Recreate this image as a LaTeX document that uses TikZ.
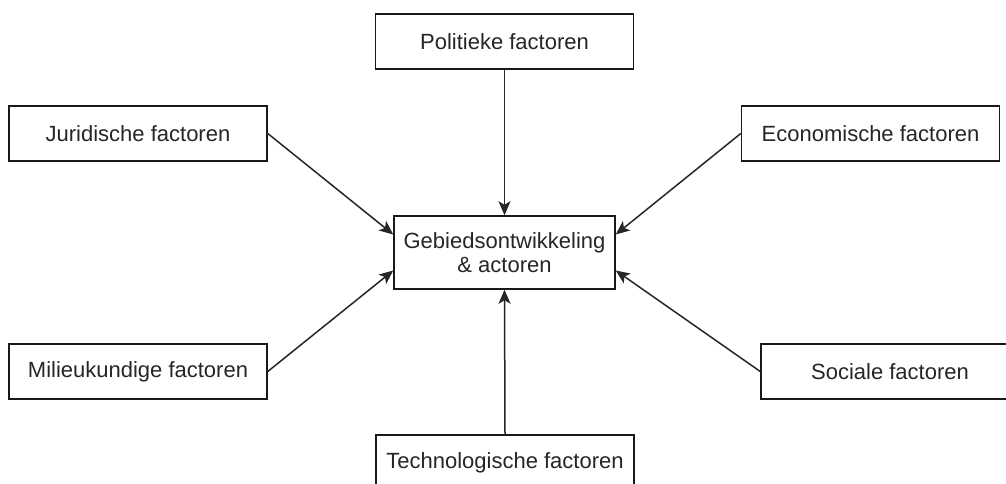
\documentclass[tikz,border=0pt]{standalone}
\usepackage{fontspec}
\setmainfont{Liberation Sans}
\usetikzlibrary{arrows.meta}
\begin{document}
\begin{tikzpicture}[x=1pt,y=-1pt,
  box/.style={draw=black!90,line width=1.5pt,minimum width=258pt,minimum height=55pt,inner sep=0pt,
    font=\fontsize{22}{26}\selectfont,text=black!85,fill=white},
  conn/.style={draw=black!85,line width=1.5pt,-{Stealth[length=14pt,width=12pt,inset=3.5pt]}}]
\useasboundingbox (0,0) rectangle (1006,484);
\node[box] (pol) at (504.5,41.5) {Politieke factoren};
\node[box] (jur) at (138,133.5) {Juridische factoren};
\node[box] (eco) at (870.5,133.5) {Economische factoren};
\node[box] (mil) at (138,371.5) {Milieukundige factoren};
\node[box] (soc) at (890,371.5) {Sociale factoren};
\node[box] (tec) at (505,462.5) {Technologische factoren};
\node[box,minimum width=221pt,minimum height=73pt,align=center] (gb) at (504.5,252.5)
  {Gebiedsontwikkeling\\[-2pt]\&\ actoren};
\draw[conn] (pol.south) -- (gb.north);
\draw[conn] (tec.north) -- (gb.south);
\draw[conn] (jur.east) -- ([yshift=18pt]gb.west);
\draw[conn] (mil.east) -- ([yshift=-18pt]gb.west);
\draw[conn] (eco.west) -- ([yshift=18pt]gb.east);
\draw[conn] (soc.west) -- ([yshift=-18pt]gb.east);
\end{tikzpicture}
\end{document}
